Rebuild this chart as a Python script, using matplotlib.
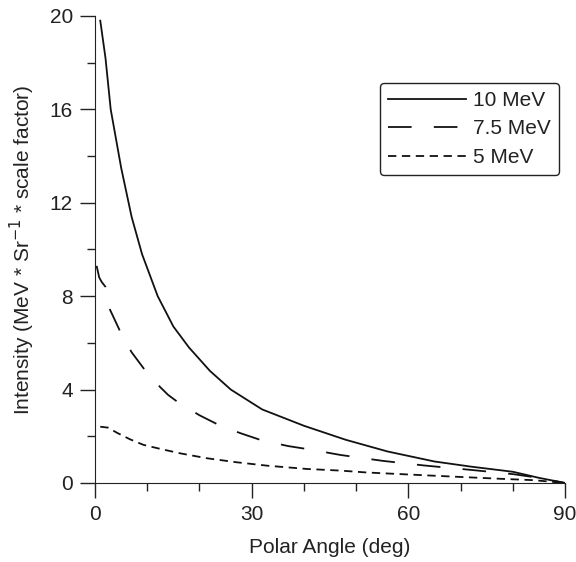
import matplotlib
matplotlib.use("Agg")
import matplotlib.pyplot as plt
from matplotlib.ticker import MultipleLocator

plt.rcParams['font.family'] = ['Liberation Sans', 'DejaVu Sans']
plt.rcParams['font.size'] = 15
plt.rcParams['lines.scale_dashes'] = False

# 10 MeV
angle_10 = [1, 2, 3, 5, 7, 9, 12, 15, 18, 22, 26, 32, 40, 48, 56, 65, 72, 80, 85, 90]
inten_10 = [19.8, 18.2, 16.0, 13.5, 11.4, 9.8, 8.0, 6.7, 5.8, 4.8, 4.0, 3.15, 2.45,
            1.85, 1.35, 0.92, 0.7, 0.48, 0.22, 0.0]

# 7.5 MeV
angle_75 = [0.3, 0.8, 1.3, 2, 2.7, 5, 7, 10, 12.5, 14, 16, 20, 24, 28, 32, 37, 41,
            47, 55, 63, 72, 80, 85, 90]
inten_75 = [9.3, 8.8, 8.6, 8.4, 7.5, 6.4, 5.6, 4.7, 4.1, 3.77, 3.44, 2.9, 2.45, 2.12,
            1.82, 1.58, 1.44, 1.2, 0.95, 0.75, 0.56, 0.38, 0.22, 0.0]

# 5 MeV
angle_5 = [1, 2.5, 4.2, 6.7, 9.3, 12.5, 16.3, 21.4, 27, 33, 40.6, 47, 52, 65, 77.6,
           84, 90]
inten_5 = [2.41, 2.37, 2.15, 1.87, 1.63, 1.46, 1.27, 1.06, 0.89, 0.74, 0.6, 0.53,
           0.45, 0.31, 0.18, 0.12, 0.0]

fig = plt.figure(figsize=(5.76, 5.62), dpi=100)
ax = fig.add_axes([0.165, 0.1406, 0.816, 0.831])

ax.plot(angle_10, inten_10, color='#111111', lw=1.3, label='10 MeV')
ax.plot(angle_75, inten_75, color='#111111', lw=1.3, dashes=(17, 16), label='7.5 MeV')
ax.plot(angle_5, inten_5, color='#111111', lw=1.3, dashes=(6, 4), label='5 MeV')

ax.set_xlim(0, 90)
ax.set_ylim(0, 20)
ax.xaxis.set_major_locator(MultipleLocator(30))
ax.xaxis.set_minor_locator(MultipleLocator(10))
ax.yaxis.set_major_locator(MultipleLocator(4))
ax.yaxis.set_minor_locator(MultipleLocator(2))
ax.tick_params(which='major', direction='out', length=11, width=1, colors='#222222',
               labelsize=15, pad=5)
ax.tick_params(which='minor', direction='out', length=5.5, width=1, colors='#222222')

for side in ['top', 'right']:
    ax.spines[side].set_visible(False)
for side in ['left', 'bottom']:
    ax.spines[side].set_color('#222222')

ax.set_xlabel('Polar Angle (deg)', color='#222222', labelpad=10)
ax.set_ylabel('Intensity (MeV * Sr$^{-1}$ * scale factor)', color='#222222', labelpad=9)

leg = ax.legend(loc='upper right', bbox_to_anchor=(0.987, 0.857), borderaxespad=0,
                fancybox=True, edgecolor='#222222', framealpha=1, handlelength=3.7,
                handletextpad=0.35, labelspacing=0.45, fontsize=15)
leg.get_frame().set_linewidth(1)
for t in leg.get_texts():
    t.set_color('#222222')

fig.savefig('out.png', dpi=100)
